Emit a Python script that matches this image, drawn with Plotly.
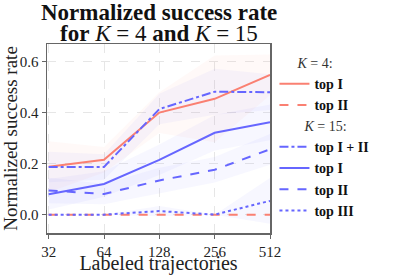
import plotly.graph_objects as go

labels = ["32", "64", "128", "256", "512"]
k4_top1 = [0.188, 0.215, 0.400, 0.454, 0.548]
k4_top2 = [0.0, 0.0, 0.0, 0.0, 0.0]
k15_top12 = [0.187, 0.187, 0.414, 0.482, 0.480]
k15_top1 = [0.080, 0.120, 0.215, 0.321, 0.362]
k15_top2 = [0.095, 0.081, 0.134, 0.176, 0.256]
k15_top3 = [0.0, 0.0, 0.014, 0.0, 0.054]

k4_top1_sd = [0.10, 0.05, 0.08, 0.17, 0.08]
k4_top2_sd = [0.0, 0.0, 0.0, 0.0, 0.0]
k15_top12_sd = [0.06, 0.05, 0.06, 0.09, 0.07]
k15_top1_sd = [0.06, 0.05, 0.06, 0.07, 0.07]
k15_top2_sd = [0.05, 0.04, 0.05, 0.05, 0.06]
k15_top3_sd = [0.0, 0.0, 0.02, 0.0, 0.09]

SALMON = "#FA8072"
BLUE = "#6666FF"
FONT = "Liberation Serif"

series = [
    ("legend", "<b>top I</b>", k4_top1, k4_top1_sd, SALMON, "solid"),
    ("legend", "<b>top II</b>", k4_top2, k4_top2_sd, SALMON, "dash"),
    ("legend2", "<b>top I + II</b>", k15_top12, k15_top12_sd, BLUE, "dashdot"),
    ("legend2", "<b>top I</b>", k15_top1, k15_top1_sd, BLUE, "solid"),
    ("legend2", "<b>top II</b>", k15_top2, k15_top2_sd, BLUE, "dash"),
    ("legend2", "<b>top III</b>", k15_top3, k15_top3_sd, BLUE, "dot"),
]

def rgba(hexc, a):
    h = hexc.lstrip("#")
    r, g, b = int(h[0:2], 16), int(h[2:4], 16), int(h[4:6], 16)
    return f"rgba({r},{g},{b},{a})"

fig = go.Figure()
for lg, name, ys, sd, col, dash in series:
    upper = [y + s for y, s in zip(ys, sd)]
    lower = [y - s for y, s in zip(ys, sd)]
    fig.add_trace(go.Scatter(x=labels + labels[::-1], y=upper + lower[::-1],
                             mode="lines", fill="toself", fillcolor=rgba(col, 0.05),
                             line=dict(width=0), showlegend=False, hoverinfo="skip"))

for lg, name, ys, sd, col, dash in series:
    fig.add_trace(go.Scatter(x=labels, y=ys, mode="lines", name=name,
                             line=dict(color=col, width=2, dash=dash),
                             legend=lg))

PT, PH = 44, 189
def py(px):
    return 1 + (PT - px) / PH

leg_common = dict(xanchor="left", yanchor="top",
                  font=dict(size=14, family=FONT, color="#111"),
                  bgcolor="rgba(0,0,0,0)", tracegroupgap=0)
fig.update_layout(
    width=402, height=275,
    margin=dict(l=47, r=132, t=PT, b=42, autoexpand=False),
    paper_bgcolor="white", plot_bgcolor="white",
    font=dict(family=FONT, color="#222"),
    hovermode=False,
    legend=dict(x=1.02, y=py(50),
                title=dict(text="      <i>K</i> = 4:", font=dict(size=14, family=FONT, color="#333")),
                **leg_common),
    legend2=dict(x=1.02, y=py(113),
                 title=dict(text="        <i>K</i> = 15:", font=dict(size=14, family=FONT, color="#333")),
                 **leg_common),
    showlegend=True,
    annotations=[
        dict(text="<b>Normalized success rate</b>",
             xref="paper", yref="paper", x=0.5, y=py(12), xanchor="center", yanchor="middle",
             showarrow=False, font=dict(size=23, family=FONT, color="#111")),
        dict(text="<b>for</b> <i>K</i> = 4 <b>and</b> <i>K</i> = 15",
             xref="paper", yref="paper", x=0.5, y=py(33), xanchor="center", yanchor="middle",
             showarrow=False, font=dict(size=23, family=FONT, color="#111")),
    ],
)
fig.update_xaxes(type="category", categoryorder="array", categoryarray=labels,
                 range=[-0.03, 4.0], automargin=False,
                 showline=True, linecolor="#666", linewidth=1.5, mirror=True,
                 ticks="outside", ticklen=4, tickcolor="#666",
                 showgrid=True, gridcolor="#e6e6e6", griddash="dash", gridwidth=1,
                 tickfont=dict(size=15, family=FONT),
                 title=dict(text="Labeled trajectories", font=dict(size=20, family=FONT), standoff=0),
                 zeroline=False)
fig.update_yaxes(range=[-0.072, 0.669], tickvals=[0.0, 0.2, 0.4, 0.6],
                 ticktext=["0.0", "0.2", "0.4", "0.6"], automargin=False,
                 showline=True, linecolor="#666", linewidth=1.5, mirror=True,
                 ticks="outside", ticklen=4, tickcolor="#666",
                 showgrid=True, gridcolor="#e6e6e6", griddash="dash", gridwidth=1,
                 tickfont=dict(size=15, family=FONT),
                 title=dict(text="Normalized success rate", font=dict(size=19, family=FONT), standoff=2),
                 zeroline=False)

fig.write_html("out.html", config={"displayModeBar": False, "staticPlot": True},
               post_script="document.body.style.margin='0';document.body.style.overflow='hidden';")
